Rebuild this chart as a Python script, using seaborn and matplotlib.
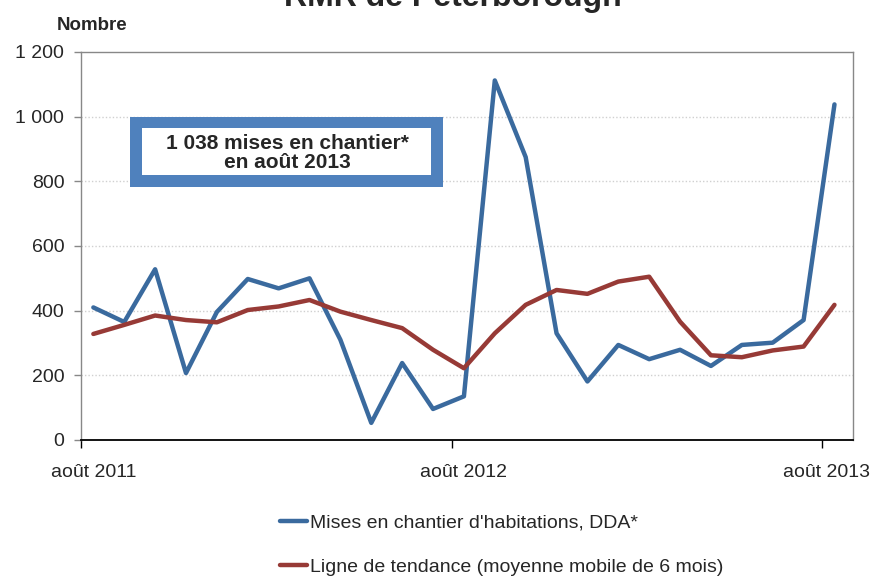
import matplotlib
matplotlib.use("Agg")
import matplotlib.pyplot as plt
import seaborn as sns
import pandas as pd
from matplotlib.patches import Rectangle
from matplotlib.lines import Line2D

months = list(range(25))  # août 2011 .. août 2013
starts = [410, 365, 528, 207, 396, 498, 469, 500, 310, 53, 238, 96, 135,
          1112, 875, 330, 181, 294, 250, 279, 229, 294, 301, 371, 1038]
trend = [328, 356, 385, 371, 364, 402, 413, 433, 397, 371, 346, 279, 222,
         330, 418, 464, 452, 490, 505, 366, 262, 256, 277, 289, 418]
tick_labels = ["août 2011", "août 2012", "août 2013"]
series_names = ["Mises en chantier d'habitations, DDA*",
                "Ligne de tendance (moyenne mobile de 6 mois)"]

BLUE = "#3A6A9E"
RED = "#973A36"

df = pd.DataFrame({"m": months * 2,
                   "v": starts + trend,
                   "s": [series_names[0]] * 25 + [series_names[1]] * 25})

sns.set_theme(style="white")
plt.rcParams["font.family"] = ["Liberation Sans", "DejaVu Sans"]

fig = plt.figure(figsize=(8.83, 5.78), dpi=100)
ax = fig.add_axes([81 / 883, 1 - 440 / 578, (853 - 81) / 883, (440 - 52) / 578])

sns.lineplot(data=df, x="m", y="v", hue="s", palette=[BLUE, RED],
             linewidth=3.2, ax=ax, legend=False, sort=False)

ax.set_xlim(-0.4, 24.6)
ax.set_ylim(0, 1200)
ax.set_yticks([0, 200, 400, 600, 800, 1000, 1200])
ax.set_yticklabels(["0", "200", "400", "600", "800", "1 000", "1 200"], fontsize=14)
# major ticks at period boundaries (no labels), labels on minor positions
ax.set_xticks([-0.4, 11.6, 23.6])
ax.set_xticklabels(["", "", ""])
ax.set_xticks([0, 12, 23.75], minor=True)
ax.set_xticklabels(tick_labels, minor=True, fontsize=14)
ax.set_xlabel("")
ax.set_ylabel("")
ax.tick_params(axis="y", which="both", left=True, length=5, width=1, color="#888888", pad=7)
ax.tick_params(axis="x", which="major", bottom=True, length=6, width=1, color="black")
ax.tick_params(axis="x", which="minor", bottom=True, length=0, pad=17)

for y in [200, 400, 600, 800, 1000]:
    ax.axhline(y, color="#D0D0D0", linestyle=(0, (1, 1.5)), linewidth=1, zorder=0)

for side in ["top", "right", "left"]:
    ax.spines[side].set_color("#888888")
    ax.spines[side].set_linewidth(1)
ax.spines["bottom"].set_color("black")
ax.spines["bottom"].set_linewidth(1.3)

# annotation box
outer = Rectangle((130 / 883, 1 - 187 / 578), (443 - 130) / 883, (187 - 117) / 578,
                  transform=fig.transFigure, facecolor="#4F81BD", edgecolor="none", zorder=5)
inner = Rectangle((142 / 883, 1 - 175 / 578), (431 - 142) / 883, (175 - 128) / 578,
                  transform=fig.transFigure, facecolor="white", edgecolor="none", zorder=6)
fig.add_artist(outer)
fig.add_artist(inner)
fig.text(287 / 883, 1 - 153 / 578, "1 038 mises en chantier*\nen août 2013",
         ha="center", va="center", fontsize=15, fontweight="bold", linespacing=0.95, zorder=7)

fig.text(0.513, 1 - 6 / 578, "RMR de Peterborough", ha="center", va="baseline",
         fontsize=23, fontweight="bold")
fig.text(57 / 883, 1 - 25 / 578, "Nombre", ha="left", va="center",
         fontsize=13.5, fontweight="bold")

handles = [Line2D([], [], color=BLUE, linewidth=3.2),
           Line2D([], [], color=RED, linewidth=3.2)]
fig.legend(handles, series_names, loc="center left",
           bbox_to_anchor=(262 / 883, 1 - 545 / 578), frameon=False,
           fontsize=14, handlelength=1.4, handletextpad=0.15, labelspacing=1.4)

fig.savefig("out.png", dpi=100)
